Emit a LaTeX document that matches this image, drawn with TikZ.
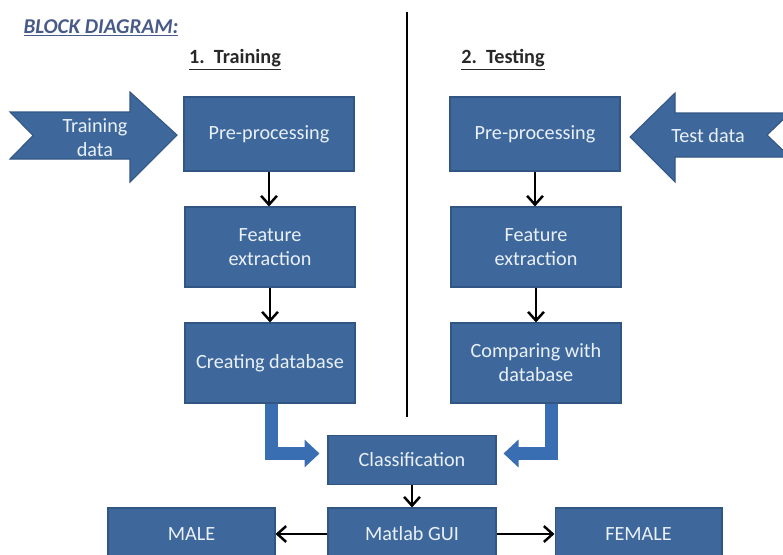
\documentclass[tikz,border=0pt]{standalone}
\usepackage{fontspec}
\setmainfont{Carlito}
\usetikzlibrary{arrows.meta,positioning}
\definecolor{boxblue}{RGB}{62,104,156}
\definecolor{boxedge}{RGB}{50,86,132}
\definecolor{bentblue}{RGB}{58,110,178}
\definecolor{boxtext}{RGB}{234,240,247}
\definecolor{titleblue}{RGB}{72,90,136}
\definecolor{headgray}{RGB}{40,40,40}

\tikzstyle{block} = [rectangle, fill=boxblue, draw=boxedge, line width=0.6pt, text=boxtext,
	minimum width=3.4cm, minimum height=1.6cm, align=center, inner sep=2pt,
	font=\fontsize{11.5}{13.7}\selectfont]
\tikzstyle{flow} = [-{Straight Barb[length=5pt,width=9pt]}, line width=1.4pt]
\tikzstyle{bent} = [-{Triangle[length=0.3cm,width=0.54cm]}, line width=0.26cm, draw=bentblue, line join=miter]
\tikzstyle{banner} = [fill=boxblue, draw=boxedge, line width=0.6pt]
\tikzstyle{heading} = [font=\bfseries\fontsize{11.5}{13}\selectfont, text=headgray]

\begin{document}
\begin{tikzpicture}[x=0.02cm,y=-0.02cm]
\useasboundingbox (0,0) rectangle (783,554);
\clip (0,0) rectangle (783,554);
\node [font=\bfseries\itshape\fontsize{12}{14}\selectfont, text=titleblue] (title) at (101,28) {\underline{BLOCK DIAGRAM:}};
\node [heading] (train) at (235,60) {\underline{1.~~Training}};
\node [heading] (test) at (503,60) {\underline{2.~~Testing}};
\coordinate (divtop) at (407,12);
\coordinate (divbot) at (407,417);
\draw [line width=1.3pt] (divtop) -- (divbot);

\draw [banner] (10,112) -- (130,112) -- (130,92) -- (177,135) -- (130,182) -- (130,159) -- (10,159) -- (33,135.5) -- cycle;
\node [text=boxtext, align=center, font=\fontsize{11.5}{13.7}\selectfont] (trdata) at (95,138) {Training\\data};
\draw [banner] (790,113) -- (675,113) -- (675,93) -- (630,137) -- (675,182) -- (675,157) -- (790,157) -- (767,135) -- cycle;
\node [text=boxtext, font=\fontsize{11.5}{13.7}\selectfont] (tsdata) at (708,136) {Test data};

\node [block, minimum height=1.48cm] (pre1) at (269,134) {Pre-processing};
\node [block] (fe1) at (270,247) {Feature\\extraction};
\node [block] (db1) at (270,363) {Creating database};
\node [block, minimum height=1.48cm] (pre2) at (535,134) {Pre-processing};
\node [block] (fe2) at (536,247) {Feature\\extraction};
\node [block] (db2) at (536,363) {Comparing with\\database};
\node [block, minimum width=3.36cm, minimum height=0.98cm] (cls) at (412,460) {Classification};
\node [block, minimum width=3.36cm, minimum height=1.04cm] (gui) at (412,534) {Matlab GUI};
\node [block, minimum width=3.34cm, minimum height=1.04cm] (male) at (191.5,534) {MALE};
\node [block, minimum width=3.34cm, minimum height=1.04cm] (female) at (638.5,534) {FEMALE};

\draw [flow] (pre1.south) -- (pre1.south |- fe1.north);
\draw [flow] (fe1.south) -- (fe1.south |- db1.north);
\draw [flow] (pre2.south) -- (pre2.south |- fe2.north);
\draw [flow] (fe2.south) -- (fe2.south |- db2.north);
\draw [flow] (cls) -- (gui);
\draw [flow] (gui) -- (male);
\draw [flow] (gui) -- (female);

\draw [bent] ([xshift=0.03cm]db1.south) |- ([xshift=-0.16cm,yshift=0.13cm]cls.west);
\draw [bent] ([xshift=0.31cm]db2.south) |- ([xshift=0.14cm,yshift=0.13cm]cls.east);
\end{tikzpicture}
\end{document}
